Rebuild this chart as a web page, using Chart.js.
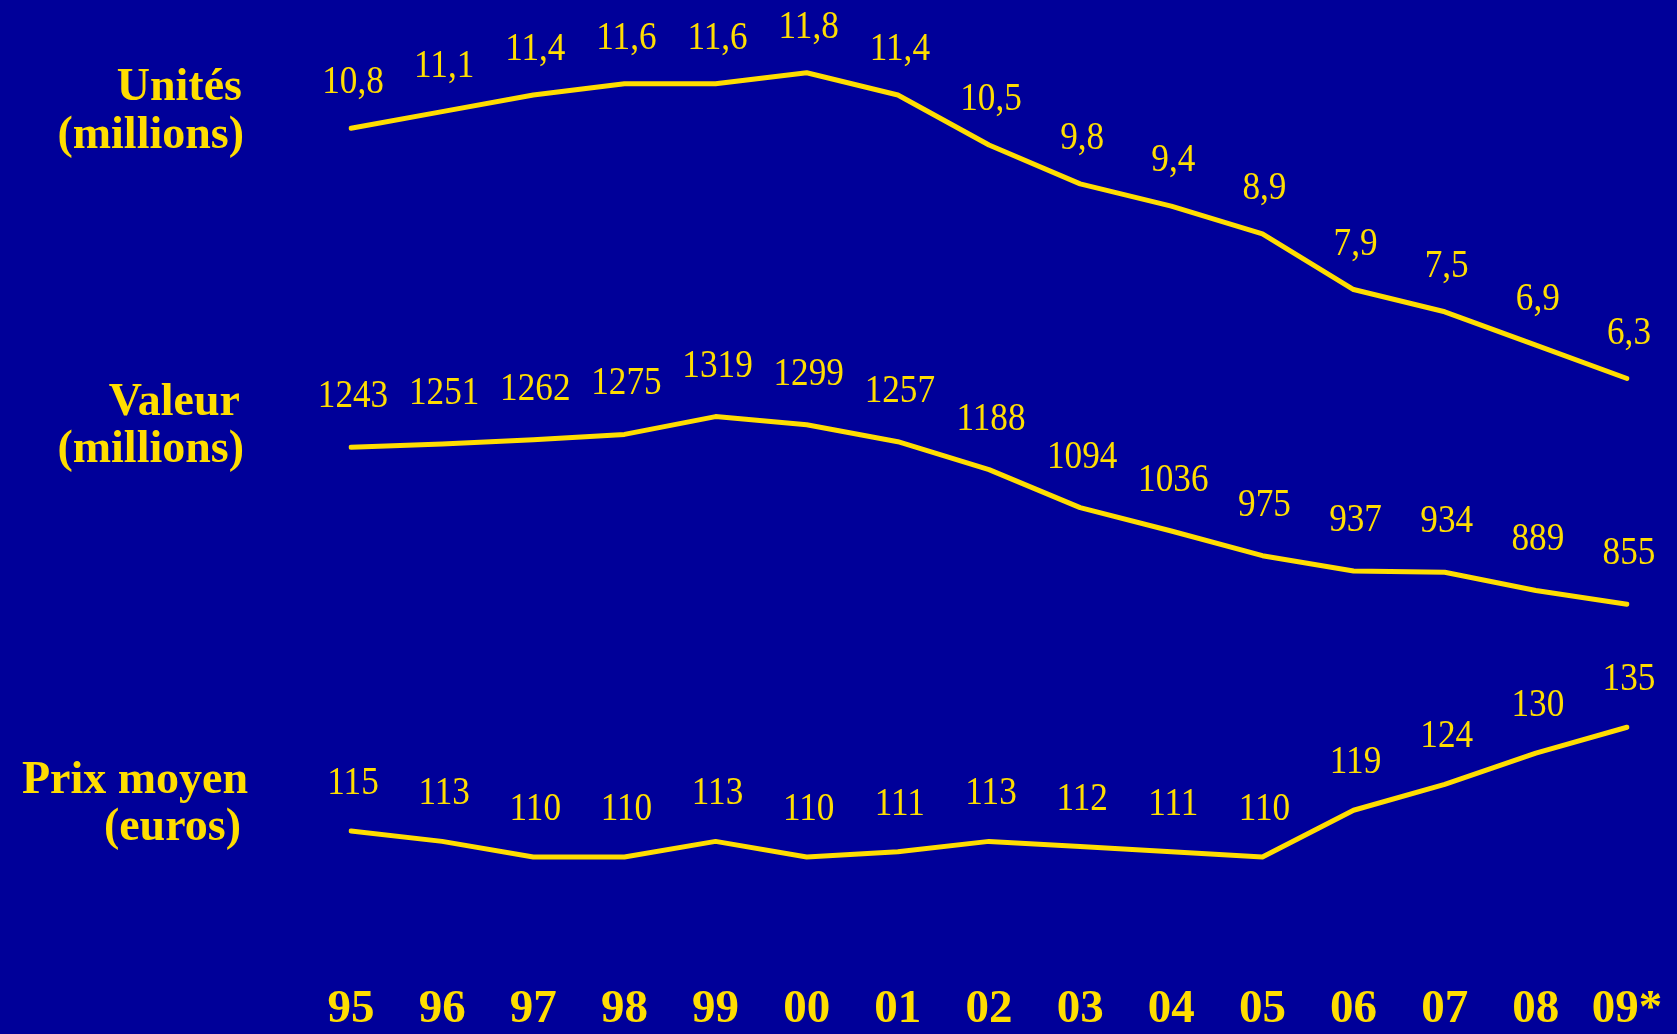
<!DOCTYPE html>
<html>
<head>
<meta charset="utf-8">
<script src="https://cdn.jsdelivr.net/npm/chart.js@4/dist/chart.umd.min.js"></script>
<style>
  body { margin: 0; background: #000099; overflow: hidden; }
  canvas { display: block; }
</style>
</head>
<body>
<canvas id="chart" width="1677" height="1034"></canvas>
<script>
// Data
const years = ["95", "96", "97", "98", "99", "00", "01", "02", "03", "04", "05", "06", "07", "08", "09*"];
const unites = [10.8, 11.1, 11.4, 11.6, 11.6, 11.8, 11.4, 10.5, 9.8, 9.4, 8.9, 7.9, 7.5, 6.9, 6.3];
const valeur = [1243, 1251, 1262, 1275, 1319, 1299, 1257, 1188, 1094, 1036, 975, 937, 934, 889, 855];
const prix = [115, 113, 110, 110, 113, 110, 111, 113, 112, 111, 110, 119, 124, 130, 135];
const seriesTitles = [["Unités", "(millions)"], ["Valeur", "(millions)"], ["Prix moyen", "(euros)"]];

const yellow = '#FFDD00';
const serif = '"Liberation Serif", "Times New Roman", serif';

// Series titles on the left and value labels above each point
const labelsPlugin = {
    id: 'labels',
    afterDatasetsDraw(chart) {
        const ctx = chart.ctx;
        ctx.save();
        ctx.fillStyle = yellow;

        // titles, right aligned: [right edge, baseline] per line
        const titleSpots = [
            [[242, 100], [244, 148]],
            [[240, 415], [244, 462]],
            [[248, 793], [241, 840]]
        ];
        ctx.font = 'bold 46px ' + serif;
        ctx.textAlign = 'right';
        ctx.textBaseline = 'alphabetic';
        seriesTitles.forEach((lines, i) => {
            lines.forEach((line, j) => {
                ctx.fillText(line, titleSpots[i][j][0], titleSpots[i][j][1]);
            });
        });

        // value labels (slightly condensed serif)
        const offsets = [48, 53, 50];
        ctx.font = '40px ' + serif;
        ctx.textAlign = 'center';
        chart.data.datasets.forEach((ds, i) => {
            const meta = chart.getDatasetMeta(i);
            meta.data.forEach((pt, k) => {
                const v = ds.data[k];
                const txt = i === 0 ? v.toFixed(1).replace('.', ',') : String(v);
                ctx.save();
                ctx.translate(pt.x + 2, pt.y - offsets[i] + 13);
                ctx.scale(0.88, 1);
                ctx.fillText(txt, 0, 0);
                ctx.restore();
            });
        });
        ctx.restore();
    }
};

const lineStyle = {
    borderColor: yellow,
    borderWidth: 5,
    borderCapStyle: 'round',
    borderJoinStyle: 'round',
    pointRadius: 0,
    tension: 0,
    fill: false
};

const hiddenAxis = (min, max) => ({
    display: false,
    min: min,
    max: max
});

new Chart(document.getElementById('chart').getContext('2d'), {
    type: 'line',
    data: {
        labels: years,
        datasets: [
            Object.assign({ label: 'Unités', data: unites, yAxisID: 'yU' }, lineStyle),
            Object.assign({ label: 'Valeur', data: valeur, yAxisID: 'yV' }, lineStyle),
            Object.assign({ label: 'Prix moyen', data: prix, yAxisID: 'yP' }, lineStyle)
        ]
    },
    options: {
        responsive: false,
        devicePixelRatio: 1,
        animation: false,
        layout: { padding: { left: 351, right: 50, top: 0, bottom: 0 } },
        plugins: {
            legend: { display: false },
            tooltip: { enabled: false }
        },
        scales: {
            x: {
                offset: false,
                grid: { display: false, drawTicks: false },
                border: { display: false },
                afterFit: (axis) => {
                    axis.height = 134;
                    axis.paddingLeft = 0;
                    axis.paddingRight = 0;
                },
                ticks: {
                    color: yellow,
                    font: { family: serif, size: 47, weight: 'bold' },
                    padding: 82,
                    autoSkip: false,
                    maxRotation: 0
                }
            },
            yU: hiddenAxis(-3.08, 13.108),
            yV: hiddenAxis(123.4, 2349.4),
            yP: hiddenAxis(101.7, 275.2)
        }
    },
    plugins: [labelsPlugin]
});
</script>
</body>
</html>
